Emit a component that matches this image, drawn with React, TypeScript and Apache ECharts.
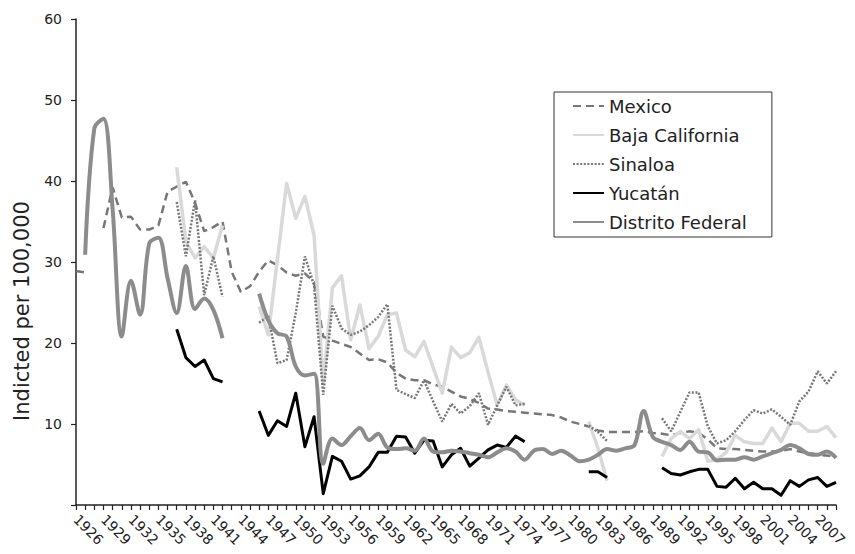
import React, { useEffect, useRef } from "react";
import * as echarts from "echarts";

const FONT = "DejaVu Sans";

const years: string[] = [
  "1926", "1927", "1928", "1929", "1930", "1931", "1932", "1933", "1934", "1935",
  "1936", "1937", "1938", "1939", "1940", "1941", "1942", "1943", "1944", "1945",
  "1946", "1947", "1948", "1949", "1950", "1951", "1952", "1953", "1954", "1955",
  "1956", "1957", "1958", "1959", "1960", "1961", "1962", "1963", "1964", "1965",
  "1966", "1967", "1968", "1969", "1970", "1971", "1972", "1973", "1974", "1975",
  "1976", "1977", "1978", "1979", "1980", "1981", "1982", "1983", "1984", "1985",
  "1986", "1987", "1988", "1989", "1990", "1991", "1992", "1993", "1994", "1995",
  "1996", "1997", "1998", "1999", "2000", "2001", "2002", "2003", "2004", "2005",
  "2006", "2007", "2008", "2009",
];

const mexico: (number | null)[] = [
  28.9, 28.7, null, 34.2, 39.2, 35.5, 35.6, 34.0, 34.0, 34.5,
  38.7, 39.3, 39.9, 37.3, 33.8, 34.3, 35.0, 28.8, 26.3, 27.0,
  28.8, 30.2, 29.6, 28.7, 28.3, 28.6, 27.5, 20.8, 20.3, 19.9,
  19.5, 18.7, 17.9, 18.0, 17.6, 16.3, 15.6, 15.4, 15.4, 14.9,
  14.6, 14.0, 13.4, 13.1, 12.6, 11.9, 11.8, 11.6, 11.5, 11.4,
  11.3, 11.2, 11.1, 10.8, 10.3, 10.0, 9.7, 9.2, 9.0, 9.0,
  9.0, 9.0, 9.1, 8.9, 8.8, 8.6, 8.9, 9.1, 8.9, 8.1,
  7.0, 6.9, 6.9, 6.8, 6.7, 6.6, 6.6, 6.7, 6.9, 6.6,
  6.4, 6.2, 6.1, 6.0,
];

const bajaCalifornia: (number | null)[] = [
  null, null, null, null, null, null, null, null, null, null,
  null, 41.7, 32.5, 30.5, 31.9, 30.5, 34.5, null, null, null,
  24.5, 21.0, 30.4, 39.7, 35.4, 38.1, 33.3, 15.0, 26.8, 28.3,
  20.4, 24.7, 19.3, 20.8, 23.5, 23.7, 19.1, 18.3, 20.2, 17.0,
  13.8, 19.5, 18.2, 18.8, 20.7, 16.4, 12.3, 14.8, 13.0, 12.3,
  null, null, null, null, null, null, 10.3, 7.0, 3.0, null,
  null, null, null, null, 6.0, 8.2, 9.1, 8.2, 9.3, 5.4,
  5.6, 6.5, 8.6, 7.8, 7.6, 7.6, 9.5, 7.8, 10.1, 10.1,
  9.1, 9.1, 9.7, 8.3,
];

const sinaloa: (number | null)[] = [
  null, null, null, null, null, null, null, null, null, null,
  null, 37.4, 30.7, 37.6, 25.9, 30.7, 25.7, null, null, null,
  22.5, 23.3, 17.5, 17.9, 23.7, 30.7, 27.1, 13.6, 24.6, 21.8,
  21.0, 21.4, 22.2, 23.2, 24.8, 14.2, 13.7, 13.2, 15.4, 12.8,
  10.3, 12.5, 11.3, 12.2, 13.8, 9.9, 12.3, 14.6, 12.3, 12.5,
  null, null, null, null, null, null, 9.8, 9.0, 7.9, null,
  null, null, null, null, 10.7, 9.1, 11.5, 13.9, 13.9, 9.7,
  7.6, 8.0, 9.1, 10.5, 11.7, 11.3, 11.8, 10.9, 9.9, 12.8,
  14.0, 16.5, 15.0, 16.5,
];

const yucatan: (number | null)[] = [
  null, null, null, null, null, null, null, null, null, null,
  null, 21.7, 18.2, 17.1, 17.9, 15.6, 15.2, null, null, null,
  11.6, 8.6, 10.4, 9.7, 13.8, 7.2, 10.9, 1.4, 6.0, 5.4,
  3.2, 3.6, 4.7, 6.5, 6.5, 8.5, 8.4, 6.4, 8.0, 7.9,
  4.7, 6.2, 7.0, 4.8, 5.8, 6.8, 7.4, 7.1, 8.5, 7.8,
  null, null, null, null, null, null, 4.1, 4.1, 3.4, null,
  null, null, null, null, 4.6, 3.9, 3.7, 4.1, 4.4, 4.4,
  2.3, 2.2, 3.3, 2.0, 2.8, 2.0, 2.0, 1.2, 3.0, 2.3,
  3.1, 3.4, 2.3, 2.8,
];

const distritoFederal: (number | null)[] = [
  null, 30.9, 46.5, 47.7, 36.5, 20.8, 27.7, 23.5, 32.3, 33.0,
  28.0, 23.7, 29.5, 24.2, 25.5, 24.1, 20.6, null, null, null,
  26.1, 22.8, 21.2, 20.8, 17.1, 16.0, 16.2, 5.1, 8.2, 7.4,
  8.5, 9.5, 8.0, 8.8, 7.1, 6.9, 7.0, 6.7, 8.2, 6.6,
  6.5, 6.7, 6.6, 6.4, 6.2, 5.9, 6.5, 7.0, 6.6, 5.6,
  6.7, 6.9, 6.3, 6.7, 6.1, 5.4, 5.6, 6.2, 6.9, 6.7,
  7.0, 7.4, 11.6, 8.4, 7.8, 7.4, 6.8, 7.8, 6.6, 6.5,
  5.5, 5.6, 5.6, 5.9, 5.6, 6.0, 6.4, 6.8, 7.4, 7.0,
  6.3, 6.2, 6.6, 5.8,
];

const seriesNames = ["Mexico", "Baja California", "Sinaloa", "Yucatán", "Distrito Federal"];
const yAxisTitle = "Indicted per 100,000";

export default function App() {
  const ref = useRef<HTMLDivElement>(null);

  useEffect(() => {
    document.body.style.margin = "0";
    if (!ref.current) return;
    const chart = echarts.init(ref.current, undefined, { renderer: "svg" });
    const axisColor = "#222222";
    const option: any = {
      animation: false,
      textStyle: { fontFamily: FONT, color: "#222" },
      grid: { left: 76, right: 19, top: 19, bottom: 49, containLabel: false },
      xAxis: {
        type: "category",
        data: years,
        boundaryGap: false,
        axisLine: { show: true, lineStyle: { color: axisColor, width: 1.5 } },
        axisTick: { show: true, interval: 0, length: 5, lineStyle: { color: axisColor, width: 1.2 } },
        axisLabel: {
          interval: 2,
          rotate: -45,
          fontSize: 14,
          color: "#222",
          margin: 12,
          fontFamily: FONT,
        },
        splitLine: { show: false },
      },
      yAxis: {
        type: "value",
        min: 0,
        max: 60,
        interval: 10,
        axisLine: { show: true, lineStyle: { color: axisColor, width: 1.5 } },
        axisTick: { show: true, length: 5, lineStyle: { color: axisColor, width: 1.2 } },
        axisLabel: {
          fontSize: 14,
          color: "#222",
          margin: 14,
          fontFamily: FONT,
          formatter: (v: number) => (v === 0 ? "" : String(v)),
        },
        splitLine: { show: false },
      },
      legend: {
        orient: "vertical",
        left: 554,
        top: 92,
        itemWidth: 31,
        itemHeight: 14,
        itemGap: 11,
        padding: [5, 25, 6, 18],
        borderColor: "#333",
        borderWidth: 1,
        itemStyle: { opacity: 0 },
        textStyle: { fontSize: 18, color: "#222", fontFamily: FONT },
        data: seriesNames,
      },
      graphic: [
        {
          type: "text",
          x: 22,
          y: 311,
          rotation: Math.PI / 2,
          style: {
            text: yAxisTitle,
            fontSize: 21,
            fontFamily: FONT,
            fill: "#222",
            align: "center",
            verticalAlign: "middle",
          },
        },
      ],
      series: [
        {
          name: seriesNames[0],
          type: "line",
          data: mexico,
          symbol: "none",
          connectNulls: false,
          itemStyle: { color: "#777777" },
          lineStyle: { color: "#777777", width: 2.5, type: [8, 5] },
        },
        {
          name: seriesNames[1],
          type: "line",
          data: bajaCalifornia,
          symbol: "none",
          connectNulls: false,
          itemStyle: { color: "#d9d9d9" },
          lineStyle: { color: "#d9d9d9", width: 3.5, join: "round" },
        },
        {
          name: seriesNames[2],
          type: "line",
          data: sinaloa,
          symbol: "none",
          connectNulls: false,
          itemStyle: { color: "#777777" },
          lineStyle: { color: "#777777", width: 2.5, type: [2, 1.6] },
        },
        {
          name: seriesNames[3],
          type: "line",
          data: yucatan,
          symbol: "none",
          connectNulls: false,
          itemStyle: { color: "#000000" },
          lineStyle: { color: "#000000", width: 3, join: "round" },
        },
        {
          name: seriesNames[4],
          type: "line",
          data: distritoFederal,
          symbol: "none",
          smooth: 0.35,
          connectNulls: false,
          itemStyle: { color: "#8c8c8c" },
          lineStyle: { color: "#8c8c8c", width: 4, join: "round" },
        },
      ],
    };
    chart.setOption(option);
    return () => {
      chart.dispose();
    };
  }, []);

  return <div ref={ref} style={{ width: 855, height: 554 }} />;
}
